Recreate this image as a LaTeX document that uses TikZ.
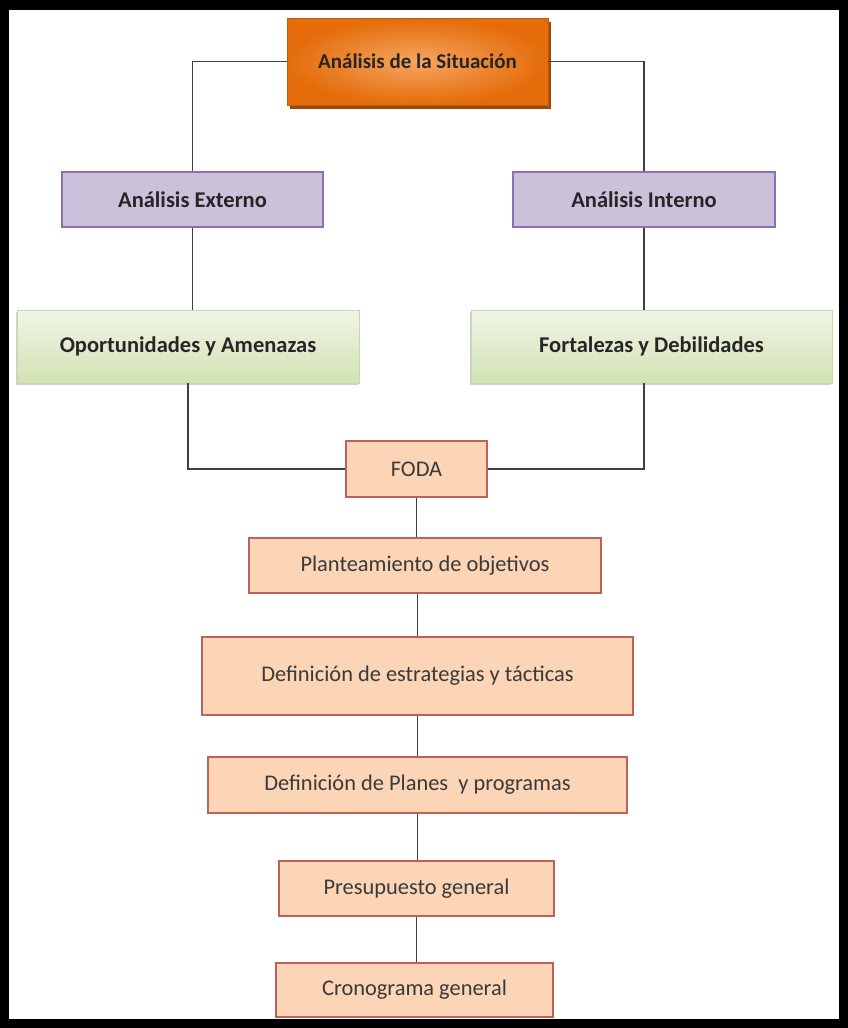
\documentclass[tikz,border=0pt]{standalone}
\usepackage{fontspec}
\setmainfont{Carlito}
\usetikzlibrary{shadows}
\definecolor{orangeA}{HTML}{E46C0A}
\definecolor{orangeB}{HTML}{F6A560}
\definecolor{orangeShadow}{HTML}{9A4A10}
\definecolor{lilac}{HTML}{CCC1DA}
\definecolor{lilacEdge}{HTML}{8C6FB0}
\definecolor{greenTop}{HTML}{F0F5E6}
\definecolor{greenBot}{HTML}{D3E2B4}
\definecolor{greenEdge}{HTML}{C8D9A6}
\definecolor{peach}{HTML}{FBD5B5}
\definecolor{peachEdge}{HTML}{C0605A}
\definecolor{linkgray}{HTML}{404040}
\definecolor{textdark}{HTML}{262626}
\definecolor{textgray}{HTML}{3A3A3A}
\tikzset{
  titlebox/.style={draw=orangeA!85!black, line width=0.8pt,
    shading=radial, inner color=orangeB, outer color=orangeA,
    font=\fontsize{21}{24}\selectfont\bfseries, text=textdark,
    drop shadow={shadow xshift=3pt, shadow yshift=-4pt, fill=orangeShadow, opacity=1}},
  areabox/.style={draw=lilacEdge, line width=1.3pt, fill=lilac,
    font=\fontsize{22.5}{26}\selectfont\bfseries, text=textdark},
  swotbox/.style={draw=greenEdge, line width=0.8pt,
    top color=greenTop, bottom color=greenBot,
    font=\fontsize{22.5}{26}\selectfont\bfseries, text=textdark,
    drop shadow={shadow xshift=-1.5pt, shadow yshift=-1.5pt, fill=black!18, opacity=1}},
  stagebox/.style={draw=peachEdge, line width=1.2pt, fill=peach,
    font=\fontsize{22.4}{26}\selectfont, text=textgray},
  link/.style={draw=linkgray, line width=1.5pt}
}
\begin{document}
\begin{tikzpicture}[x=1pt, y=-1pt]
  \useasboundingbox (0,0) rectangle (848,1028);
  % frame
  \fill[black] (0,0) rectangle (848,1028);
  \fill[white] (9,10) rectangle (839,1019);

  % nodes
  \node[titlebox, minimum width=261pt, minimum height=87pt] (sit) at (417.5,61.5) {Análisis de la Situación};
  \node[areabox, minimum width=261pt, minimum height=55pt] (ext) at (192.5,199.5) {Análisis Externo};
  \node[areabox, minimum width=262pt, minimum height=55pt] (int) at (644,199.5) {Análisis Interno};
  \node[swotbox, minimum width=342pt, minimum height=73pt] (opo) at (188,346.5) {Oportunidades y Amenazas};
  \node[swotbox, minimum width=361pt, minimum height=73pt] (fort) at (651.5,346.5) {Fortalezas y Debilidades};
  \node[stagebox, minimum width=141pt, minimum height=56pt] (foda) at (416.5,469) {FODA};
  \node[stagebox, minimum width=352pt, minimum height=55pt] (plan) at (425,565.5) {Planteamiento de objetivos};
  \node[stagebox, minimum width=431pt, minimum height=78pt] (estr) at (417.5,676) {Definición de estrategias y tácticas};
  \node[stagebox, minimum width=419pt, minimum height=56pt] (planes) at (417.5,785) {Definición de Planes\ \ y programas};
  \node[stagebox, minimum width=275pt, minimum height=55pt] (pres) at (416.5,888.5) {Presupuesto general};
  \node[stagebox, minimum width=277pt, minimum height=54pt] (cron) at (414.5,990) {Cronograma general};

  % connectors
  \draw[link] (sit.west) -| (ext.north);
  \draw[link] (sit.east) -| (int.north);
  \draw[link] (ext.south) -- (ext.south |- opo.north);
  \draw[link] (int.south) -- (int.south |- fort.north);
  \draw[link] (foda.west) -| (opo.south);
  \draw[link] (foda.east) -| (int.south |- fort.south);
  \draw[link] (foda.south) -- (foda.south |- plan.north);
  \draw[link] (estr.north) -- (estr.north |- plan.south);
  \draw[link] (estr.south) -- (estr.south |- planes.north);
  \draw[link] (planes.south) -- (planes.south |- pres.north);
  \draw[link] (pres.south) -- (pres.south |- cron.north);
\end{tikzpicture}
\end{document}
